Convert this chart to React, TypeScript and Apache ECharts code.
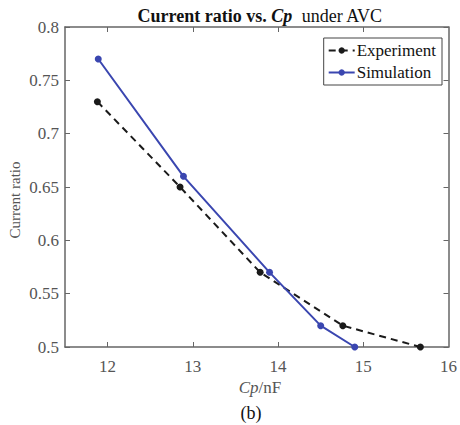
import React, { useEffect, useRef } from "react";
import * as echarts from "echarts";

const experimentX = [11.88, 12.85, 13.79, 14.76, 15.67];
const experimentY = [0.73, 0.65, 0.57, 0.52, 0.5];
const simulationX = [11.89, 12.89, 13.9, 14.5, 14.9];
const simulationY = [0.77, 0.66, 0.57, 0.52, 0.5];
const xTicks = [12, 13, 14, 15, 16];

const FONT = "Liberation Serif";
const AXIS = "#666";
const LABEL = "#555";
const BLUE = "#3a46b0";
const BLACK = "#1a1a1a";

export default function App() {
  const ref = useRef<HTMLDivElement>(null);
  useEffect(() => {
    if (!ref.current) return;
    const chart = echarts.init(ref.current, undefined, { renderer: "svg" });
    const pair = (xs: number[], ys: number[]) => xs.map((x, i) => [x, ys[i]]);
    const xBase = {
      type: "value" as const,
      min: 11.5,
      max: 16,
      splitLine: { show: false },
      axisLine: { show: true, lineStyle: { color: AXIS, width: 1.5 } },
    };
    const yBase = {
      type: "value" as const,
      min: 0.5,
      max: 0.8,
      interval: 0.05,
      splitLine: { show: false },
      axisLine: { show: true, lineStyle: { color: AXIS, width: 1.5 } },
    };
    const tickRich = { t: { fontFamily: FONT, fontSize: 17, color: LABEL } };
    chart.setOption({
      animation: false,
      backgroundColor: "#fff",
      textStyle: { fontFamily: FONT },
      grid: { left: 65, top: 27, width: 389, height: 320, containLabel: false },
      xAxis: [
        {
          ...xBase,
          position: "bottom",
          axisTick: { show: true, inside: true, length: 5, lineStyle: { color: AXIS }, customValues: [12, 13, 14, 15] },
          axisLabel: {
            show: true,
            customValues: xTicks,
            fontFamily: "serif",
            fontSize: 17,
            color: LABEL,
            margin: 11,
            formatter: (v: number) => "{t|" + String(v) + "}",
            rich: tickRich,
          },
        },
        {
          ...xBase,
          position: "top",
          axisTick: { show: true, inside: true, length: 5, lineStyle: { color: AXIS }, customValues: [12, 13, 14, 15] },
          axisLabel: { show: false },
        },
      ],
      yAxis: [
        {
          ...yBase,
          position: "left",
          axisTick: { show: true, inside: true, length: 5, lineStyle: { color: AXIS } },
          axisLabel: {
            show: true,
            fontFamily: "serif",
            fontSize: 17,
            color: LABEL,
            margin: 6,
            formatter: (v: number) => "{t|" + String(Math.round(v * 100) / 100) + "}",
            rich: tickRich,
          },
        },
        {
          ...yBase,
          position: "right",
          axisTick: { show: true, inside: true, length: 5, lineStyle: { color: AXIS } },
          axisLabel: { show: false },
        },
      ],
      legend: {
        orient: "vertical",
        right: 18,
        top: 38,
        backgroundColor: "#fff",
        borderColor: "#444",
        borderWidth: 1,
        borderRadius: 0,
        padding: [4, 6, 4, 4],
        itemGap: 5,
        itemWidth: 26,
        itemHeight: 8,
        formatter: (n: string) => "{t|" + n + "}",
        textStyle: {
          fontFamily: "serif",
          fontSize: 17,
          color: "#111",
          padding: [0, 0, 0, -3],
          rich: { t: { fontFamily: FONT, fontSize: 17, color: "#111" } },
        },
        data: ["Experiment", "Simulation"],
      },
      series: [
        {
          name: "Experiment",
          type: "line",
          data: pair(experimentX, experimentY),
          symbol: "circle",
          symbolSize: 7,
          itemStyle: { color: BLACK },
          lineStyle: { color: BLACK, width: 2, type: [7, 5] },
          z: 2,
        },
        {
          name: "Simulation",
          type: "line",
          data: pair(simulationX, simulationY),
          symbol: "circle",
          symbolSize: 7,
          itemStyle: { color: BLUE },
          lineStyle: { color: BLUE, width: 2 },
          z: 3,
        },
      ],
      graphic: [
        {
          type: "text",
          x: 260,
          y: 16,
          style: {
            text: "{b|Current ratio vs. }{bi|Cp}{n|  under AVC}",
            align: "center",
            verticalAlign: "middle",
            rich: {
              b: { fontFamily: FONT, fontSize: 18, fontWeight: "bold", fill: "#111" },
              bi: { fontFamily: FONT, fontSize: 18, fontWeight: "bold", fontStyle: "italic", fill: "#111" },
              n: { fontFamily: FONT, fontSize: 18, fill: "#111" },
            },
          },
        },
        {
          type: "text",
          x: 260,
          y: 387,
          style: {
            text: "{i|Cp}{n|/nF}",
            align: "center",
            verticalAlign: "middle",
            rich: {
              i: { fontFamily: FONT, fontSize: 17, fontStyle: "italic", fill: LABEL },
              n: { fontFamily: FONT, fontSize: 17, fill: LABEL },
            },
          },
        },
        {
          type: "text",
          x: 15,
          y: 200,
          rotation: Math.PI / 2,
          style: {
            text: "{n|Current ratio}",
            align: "center",
            verticalAlign: "middle",
            rich: { n: { fontFamily: FONT, fontSize: 15, fill: LABEL } },
          },
        },
        {
          type: "text",
          x: 251,
          y: 413,
          style: {
            text: "{n|(b)}",
            align: "center",
            verticalAlign: "middle",
            rich: { n: { fontFamily: FONT, fontSize: 18, fill: "#111" } },
          },
        },
      ],
    });
    return () => chart.dispose();
  }, []);
  return (
    <div
      ref={ref}
      style={{ position: "fixed", left: 0, top: 0, width: 460, height: 425, background: "#fff" }}
    />
  );
}
